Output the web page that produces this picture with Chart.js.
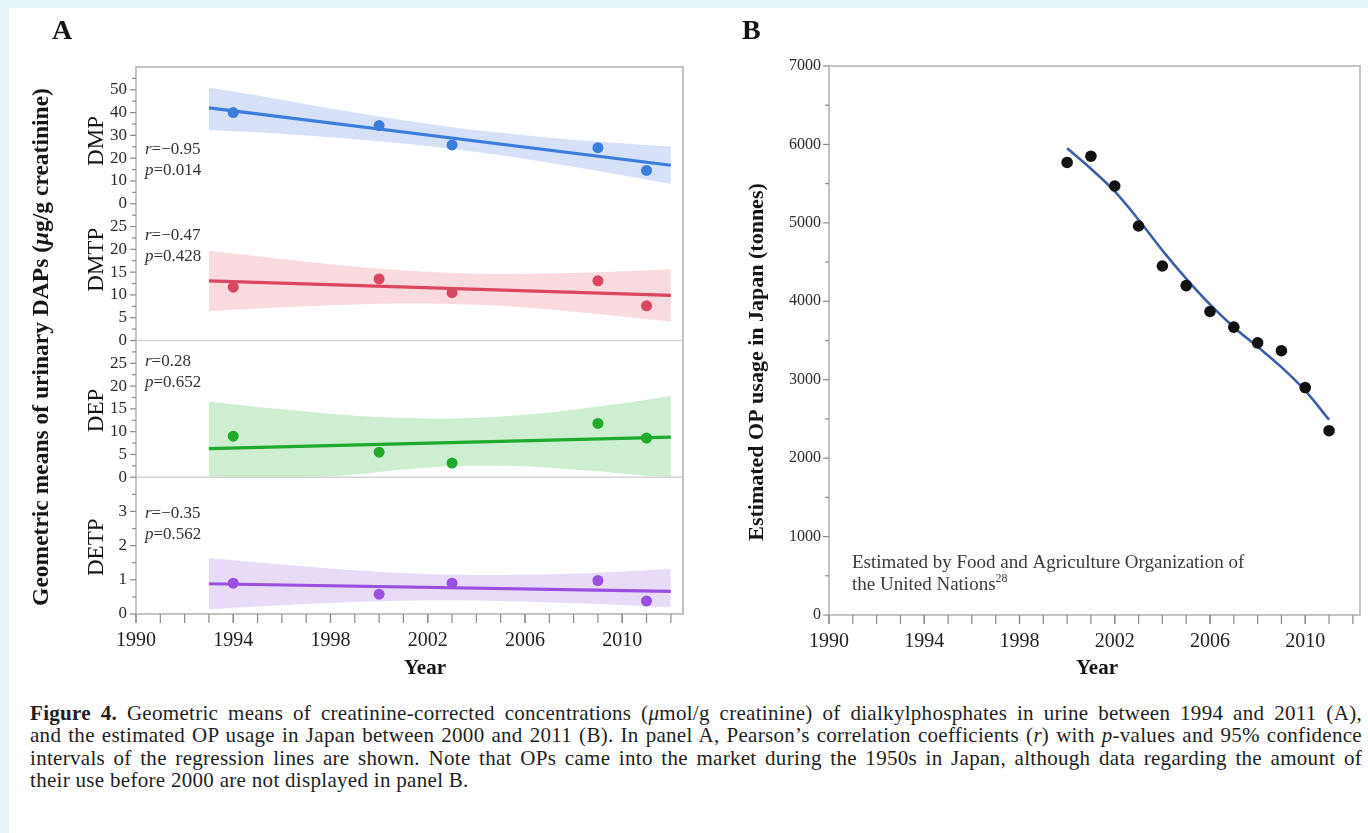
<!DOCTYPE html>
<html>
<head>
<meta charset="utf-8">
<script src="https://cdn.jsdelivr.net/npm/chart.js@4.4.1/dist/chart.umd.min.js"></script>
<style>
  html, body { margin: 0; padding: 0; }
  body { width: 1368px; height: 833px; position: relative; overflow: hidden; background: #e6f5fa; font-family: "Liberation Serif", serif; }
  #card { position: absolute; left: 9px; top: 8px; right: 0; bottom: 0; background: #fff; }
  #wrapA { position: absolute; left: 0; top: 0; width: 700px; height: 690px; }
  #wrapB { position: absolute; left: 700px; top: 0; width: 668px; height: 690px; }
  #caption { position: absolute; left: 30px; top: 702px; width: 1332px; font-size: 21px; line-height: 22.3px; letter-spacing: 0.3px; color: #1e1e1e; }
  #caption .j { text-align: justify; text-align-last: justify; }
</style>
</head>
<body>
<div id="card"></div>
<div id="wrapA"><canvas id="chartA" width="700" height="690"></canvas></div>
<div id="wrapB"><canvas id="chartB" width="668" height="690"></canvas></div>
<div id="caption">
  <div class="j"><b>Figure 4.</b> Geometric means of creatinine-corrected concentrations (<i>μ</i>mol/g creatinine) of dialkylphosphates in urine between 1994 and 2011 (A),</div>
  <div class="j">and the estimated OP usage in Japan between 2000 and 2011 (B). In panel A, Pearson’s correlation coefficients (<i>r</i>) with <i>p</i>-values and 95% confidence</div>
  <div class="j">intervals of the regression lines are shown. Note that OPs came into the market during the 1950s in Japan, although data regarding the amount of</div>
  <div>their use before 2000 are not displayed in panel B.</div>
</div>
<script>
// ---------- Panel A: urinary dialkylphosphates (geometric means) ----------
const surveyYears = [1994, 2000, 2003, 2009, 2011];
const dmpValues  = [40.0, 34.3, 25.8, 24.6, 14.6];
const dmtpValues = [11.7, 13.5, 10.5, 13.1, 7.6];
const depValues  = [9.0, 5.5, 3.1, 11.8, 8.6];
const detpValues = [0.90, 0.58, 0.90, 0.98, 0.38];

// regression line end points
const fitYears = [1993, 2012];
const dmpFit  = [42.1, 16.9];
const dmtpFit = [13.1, 9.9];
const depFit  = [6.3, 8.8];
const detpFit = [0.885, 0.66];

// 95% confidence band of each regression line
const bandYears = [1993, 1995, 1997, 1999, 2001, 2003, 2005, 2007, 2009, 2011, 2012];
const dmpUpper  = [51.0, 47.5, 43.7, 40.0, 36.6, 33.6, 31.1, 29.0, 27.3, 25.8, 25.1];
const dmpLower  = [32.3, 31.4, 29.9, 28.3, 26.4, 24.0, 21.3, 18.0, 14.4, 10.6, 8.7];
const dmtpUpper = [19.7, 18.5, 17.3, 16.2, 15.4, 14.8, 14.6, 14.7, 15.0, 15.4, 15.7];
const dmtpLower = [6.4, 7.0, 7.5, 7.9, 8.1, 8.0, 7.6, 6.8, 5.8, 4.7, 4.1];
const depUpper  = [16.6, 15.4, 14.4, 13.5, 13.0, 12.9, 13.3, 14.2, 15.5, 17.0, 17.8];
const depLower  = [0, 0, 0, 0.6, 1.7, 2.4, 2.5, 2.1, 1.3, 0.3, 0];
const detpUpper = [1.64, 1.51, 1.39, 1.28, 1.20, 1.15, 1.14, 1.16, 1.21, 1.28, 1.32];
const detpLower = [0.14, 0.22, 0.29, 0.35, 0.39, 0.40, 0.38, 0.34, 0.29, 0.23, 0.20];

const analyteNames = ['DMP', 'DMTP', 'DEP', 'DETP'];
const corrR = ['−0.95', '−0.47', '0.28', '−0.35'];
const corrP = ['0.014', '0.428', '0.652', '0.562'];

// ---------- Panel B: estimated OP usage in Japan ----------
const usageYears = [2000, 2001, 2002, 2003, 2004, 2005, 2006, 2007, 2008, 2009, 2010, 2011];
const usageTonnes = [5770, 5850, 5470, 4960, 4450, 4200, 3870, 3670, 3470, 3370, 2900, 2350];
const usageSmooth = [5950, 5690, 5400, 5040, 4650, 4290, 3960, 3670, 3420, 3160, 2860, 2490];

// ---------- tick labels ----------
const yearLabels = [1990, 1994, 1998, 2002, 2006, 2010];
const yearMinor  = [1990, 1991, 1992, 1993, 1994, 1995, 1996, 1997, 1998, 1999, 2000, 2001,
                    2002, 2003, 2004, 2005, 2006, 2007, 2008, 2009, 2010, 2011, 2012];
const dmpTicks   = [0, 10, 20, 30, 40, 50];
const dmpMinor   = [5, 15, 25, 35, 45, 55];
const dmtpTicks  = [0, 5, 10, 15, 20, 25];
const dmtpMinor  = [2.5, 7.5, 12.5, 17.5, 22.5, 27.5];
const depTicks   = [0, 5, 10, 15, 20, 25];
const depMinor   = [2.5, 7.5, 12.5, 17.5, 22.5, 27.5];
const detpTicks  = [0, 1, 2, 3];
const detpMinor  = [0.5, 1.5, 2.5, 3.5];
const usageTicks = [0, 1000, 2000, 3000, 4000, 5000, 6000, 7000];
const usageMinor = [500, 1500, 2500, 3500, 4500, 5500, 6500];

const SERIF = '"Liberation Serif", "Times New Roman", serif';
const pairs = (xs, ys) => xs.map((x, i) => ({ x, y: ys[i] }));

// draws a row of differently styled text runs as one label
function drawRuns(ctx, runs, x, y, align) {
  let w = 0;
  for (const r of runs) { ctx.font = r.f; w += ctx.measureText(r.t).width; }
  let cx = align === 'center' ? x - w / 2 : x;
  ctx.textAlign = 'left';
  ctx.textBaseline = 'middle';
  for (const r of runs) {
    ctx.font = r.f;
    ctx.fillText(r.t, cx, y + (r.dy || 0));
    cx += ctx.measureText(r.t).width;
  }
}

// frame, separators, major/minor tick marks and free text
const framePlugin = {
  id: 'framePlugin',
  afterDatasetsDraw(chart, args, opts) {
    const ctx = chart.ctx, ca = chart.chartArea;
    ctx.save();
    ctx.strokeStyle = '#d4d4d4';
    ctx.lineWidth = 1.5;
    for (const id of (opts.separators || [])) {
      const y = chart.scales[id].getPixelForValue(0);
      ctx.beginPath(); ctx.moveTo(ca.left, y); ctx.lineTo(ca.right, y); ctx.stroke();
    }
    ctx.strokeStyle = '#c4c4c4';
    ctx.lineWidth = 2;
    ctx.strokeRect(ca.left, ca.top, ca.right - ca.left, ca.bottom - ca.top);

    ctx.strokeStyle = '#8a8a8a';
    ctx.lineWidth = 1.2;
    for (const spec of opts.ticks) {
      const s = chart.scales[spec.id];
      const draw = (v, len) => {
        ctx.beginPath();
        if (s.isHorizontal()) {
          const x = s.getPixelForValue(v);
          ctx.moveTo(x, ca.bottom); ctx.lineTo(x, ca.bottom + len);
        } else {
          const y = s.getPixelForValue(v);
          ctx.moveTo(ca.left, y); ctx.lineTo(ca.left - len, y);
        }
        ctx.stroke();
      };
      spec.minor.forEach(v => draw(v, spec.minorLen));
      spec.major.forEach(v => draw(v, spec.majorLen));
    }
    ctx.restore();
  },
  afterDraw(chart, args, opts) {
    const ctx = chart.ctx;
    for (const t of opts.texts(chart)) {
      ctx.save();
      ctx.translate(t.x, t.y);
      if (t.rotate) ctx.rotate(-Math.PI / 2);
      ctx.fillStyle = t.color || '#151515';
      drawRuns(ctx, t.runs, 0, 0, t.align || 'center');
      ctx.restore();
    }
  }
};

function yScale(min, max, majors, stack) {
  return {
    type: 'linear', position: 'left', stack: stack, stackWeight: 1, offset: false,
    min: min, max: max,
    afterBuildTicks: s => { s.ticks = majors.map(v => ({ value: v })); },
    afterFit: s => { s.width = 75; },
    grid: { display: false, drawTicks: false }, border: { display: false },
    ticks: { font: { family: SERIF, size: 17 }, color: '#2a2a2a', padding: 9, autoSkip: false,
             callback: v => String(v) }
  };
}

const seriesA = [
  { id: 'yDMP',  vals: dmpValues,  fit: dmpFit,  up: dmpUpper,  lo: dmpLower,  line: '#3b7ddd', band: 'rgba(70,120,220,0.22)' },
  { id: 'yDMTP', vals: dmtpValues, fit: dmtpFit, up: dmtpUpper, lo: dmtpLower, line: '#dc4560', band: 'rgba(220,70,95,0.20)' },
  { id: 'yDEP',  vals: depValues,  fit: depFit,  up: depUpper,  lo: depLower,  line: '#1faa2c', band: 'rgba(40,180,50,0.23)' },
  { id: 'yDETP', vals: detpValues, fit: detpFit, up: detpUpper, lo: detpLower, line: '#9b4fe0', band: 'rgba(150,90,225,0.22)' }
];

const datasetsA = [];
seriesA.forEach(s => {
  datasetsA.push({ data: pairs(bandYears, s.up), yAxisID: s.id, borderWidth: 0, pointRadius: 0,
                   backgroundColor: s.band, fill: '+1', cubicInterpolationMode: 'monotone', order: 3 });
  datasetsA.push({ data: pairs(bandYears, s.lo), yAxisID: s.id, borderWidth: 0, pointRadius: 0,
                   fill: false, cubicInterpolationMode: 'monotone', order: 3 });
  datasetsA.push({ data: pairs(fitYears, s.fit), yAxisID: s.id, borderColor: s.line, borderWidth: 3.2,
                   pointRadius: 0, fill: false, order: 2 });
  datasetsA.push({ data: pairs(surveyYears, s.vals), yAxisID: s.id, showLine: false, pointRadius: 5.5,
                   pointBackgroundColor: s.line, pointBorderWidth: 0, fill: false, order: 1 });
});

function yearAxis(max, height) {
  return {
    type: 'linear', position: 'bottom', min: 1990, max: max,
    afterBuildTicks: s => { s.ticks = yearLabels.map(v => ({ value: v })); },
    afterFit: s => { s.height = height; },
    grid: { display: false, drawTicks: false }, border: { display: false },
    ticks: { font: { family: SERIF, size: 20 }, color: '#1e1e1e', padding: 15, maxRotation: 0, autoSkip: false,
             callback: v => String(v) }
  };
}

const rOffsets = [83, 32, 21, 36];
const nameOffsets = [74, 56, 70, 70];

new Chart(document.getElementById('chartA'), {
  type: 'line',
  data: { datasets: datasetsA },
  options: {
    responsive: false, animation: false, events: [],
    layout: { padding: { left: 61, right: 17, top: 67, bottom: 0 } },
    scales: {
      x: yearAxis(2012.5, 76),
      yDETP: yScale(0, 4, detpTicks, 'dap'),
      yDEP: yScale(0, 30, depTicks, 'dap'),
      yDMTP: yScale(0, 30, dmtpTicks, 'dap'),
      yDMP: yScale(0, 60, dmpTicks, 'dap')
    },
    plugins: {
      legend: { display: false }, tooltip: { enabled: false },
      framePlugin: {
        separators: ['yDMTP', 'yDEP', 'yDETP'],
        ticks: [
          { id: 'x', major: yearLabels, minor: yearMinor, majorLen: 9, minorLen: 9 },
          { id: 'yDMP', major: dmpTicks, minor: dmpMinor, majorLen: 6, minorLen: 4 },
          { id: 'yDMTP', major: dmtpTicks, minor: dmtpMinor, majorLen: 6, minorLen: 4 },
          { id: 'yDEP', major: depTicks, minor: depMinor, majorLen: 6, minorLen: 4 },
          { id: 'yDETP', major: detpTicks, minor: detpMinor, majorLen: 6, minorLen: 4 }
        ],
        texts: chart => {
          const out = [
            { x: 52, y: 32, align: 'left', runs: [{ t: 'A', f: 'bold 28px ' + SERIF }] },
            { x: 42, y: 347, rotate: true, runs: [
              { t: 'Geometric means of urinary DAPs (', f: 'bold 23.5px ' + SERIF },
              { t: 'μ', f: 'italic bold 23.5px ' + SERIF },
              { t: 'g/g creatinine)', f: 'bold 23.5px ' + SERIF } ] },
            { x: 425, y: 669, runs: [{ t: 'Year', f: 'bold 21px ' + SERIF }] }
          ];
          seriesA.forEach((s, i) => {
            const sc = chart.scales[s.id];
            out.push({ x: 97, y: sc.top + nameOffsets[i], rotate: true,
                       runs: [{ t: analyteNames[i], f: '23px ' + SERIF }] });
            out.push({ x: 145, y: sc.top + rOffsets[i], align: 'left', color: '#333',
                       runs: [{ t: 'r', f: 'italic 17px ' + SERIF }, { t: '=' + corrR[i], f: '17px ' + SERIF }] });
            out.push({ x: 145, y: sc.top + rOffsets[i] + 21, align: 'left', color: '#333',
                       runs: [{ t: 'p', f: 'italic 17px ' + SERIF }, { t: '=' + corrP[i], f: '17px ' + SERIF }] });
          });
          return out;
        }
      }
    }
  },
  plugins: [framePlugin]
});

new Chart(document.getElementById('chartB'), {
  type: 'line',
  data: {
    datasets: [
      { data: pairs(usageYears, usageSmooth), borderColor: '#3f5ea8', borderWidth: 2.6, pointRadius: 0,
        fill: false, cubicInterpolationMode: 'monotone', order: 2 },
      { data: pairs(usageYears, usageTonnes), showLine: false, pointRadius: 5.8,
        pointBackgroundColor: '#111', pointBorderWidth: 0, order: 1 }
    ]
  },
  options: {
    responsive: false, animation: false, events: [],
    layout: { padding: { left: 0, right: 8, top: 66, bottom: 0 } },
    scales: {
      x: yearAxis(2012.3, 75),
      y: {
        type: 'linear', position: 'left', min: 0, max: 7000,
        afterBuildTicks: s => { s.ticks = usageTicks.map(v => ({ value: v })); },
        afterFit: s => { s.width = 129; },
        grid: { display: false, drawTicks: false }, border: { display: false },
        ticks: { font: { family: SERIF, size: 16 }, color: '#2a2a2a', padding: 8, autoSkip: false,
                 callback: v => String(v) }
      }
    },
    plugins: {
      legend: { display: false }, tooltip: { enabled: false },
      framePlugin: {
        separators: [],
        ticks: [
          { id: 'x', major: yearLabels, minor: yearMinor, majorLen: 9, minorLen: 9 },
          { id: 'y', major: usageTicks, minor: usageMinor, majorLen: 6, minorLen: 4 }
        ],
        texts: chart => [
          { x: 42, y: 32, align: 'left', runs: [{ t: 'B', f: 'bold 28px ' + SERIF }] },
          { x: 57, y: 362, rotate: true, runs: [{ t: 'Estimated OP usage in Japan (tonnes)', f: 'bold 22px ' + SERIF }] },
          { x: 397, y: 669, runs: [{ t: 'Year', f: 'bold 21px ' + SERIF }] },
          { x: 152, y: 563, align: 'left', color: '#3a3a3a',
            runs: [{ t: 'Estimated by Food and Agriculture Organization of', f: '19px ' + SERIF }] },
          { x: 152, y: 585, align: 'left', color: '#3a3a3a',
            runs: [{ t: 'the United Nations', f: '19px ' + SERIF }, { t: '28', f: '12px ' + SERIF, dy: -6 }] }
        ]
      }
    }
  },
  plugins: [framePlugin]
});
</script>
</body>
</html>
